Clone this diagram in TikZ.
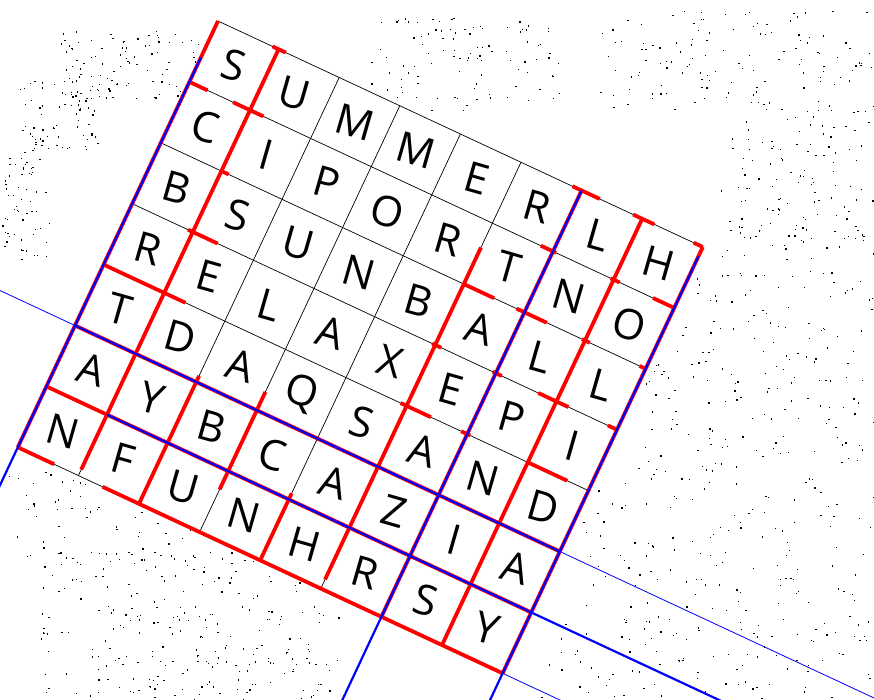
\documentclass[tikz,border=0pt]{standalone}
\usepackage{fontspec}
\setmainfont{Open Sans}
\tikzset{
  gridline/.style={black,line width=0.7pt},
  redline/.style={red,line width=3.8pt},
  blueline/.style={blue,line width=2.2pt},
  bluethin/.style={blue,line width=0.8pt},
  letter/.style={font=\fontsize{42}{42}\selectfont,rotate=-16,inner sep=0pt,text=black},
  speck/.style={fill=black}
}
\begin{document}
\begin{tikzpicture}[x=1pt,y=-1pt]
\useasboundingbox (0,0) rectangle (874,700);
\clip (0,0) rectangle (874,700);
% background speckle
\pgfmathsetseed{7}
\foreach \xa/\ya/\w/\h/\n in {60/30/150/70/100, 20/80/80/70/70, 0/150/50/110/60, 370/15/190/95/100, 600/10/274/100/130, 720/110/154/150/130, 640/260/234/190/160, 580/450/294/190/160, 40/550/300/150/260, 0/470/200/90/70, 540/620/334/80/80}{
  \foreach \k in {1,...,\n}{
    \pgfmathsetmacro\px{\xa+\w*rnd}
    \pgfmathsetmacro\py{\ya+\h*rnd}
    \fill[speck] (\px,\py) rectangle ++(1.3,1.3);
  }
}
\begin{scope}[shift={(218,21)},x={(60.6pt,-28.25pt)},y={(-28.6pt,-60.9pt)}]
  \fill[white] (0,0) -- (8,0) -- (8,7) -- (0,7) -- cycle;
  \foreach \i in {0,...,8} \draw[gridline] (\i,0) -- (\i,7);
  \foreach \j in {0,...,7} \draw[gridline] (0,\j) -- (8,\j);
  % red verticals
  \foreach \i/\a/\b in {0/0/7,1/0/6.9,2/4.9/7,3/4.7/6.3,4/5.9/7,5/1.4/6.85,6/0/7,7/0/7,8/0/7}
    \draw[redline] (\i,\a) -- (\i,\b);
  % red horizontals
  \foreach \j/\a/\b in {0/0.9/1.12, 0/5.85/6.3, 0/6.85/7.2, 0/7.85/8, 1/0/0.3, 1/0.72/1.22, 1/5.8/6.05, 1/6.95/7.1, 1/7.65/8, 2/1/1.12, 2/5/5.5, 2/5.87/6.37, 2/6.95/7.08, 2/7.9/8, 3/0.92/1.41, 3/4.95/5.1, 3/5.95/6.1, 3/6.7/7.2, 3/7.85/8, 4/0/1.35, 4/4.9/5.4, 4/5.9/6.05, 4/7/7.65, 5/0/8, 6/0/8, 7/0/0.6, 7/1.4/8}
    \draw[redline] (\a,\j) -- (\b,\j);
  % blue
  \draw[bluethin] (-4,5) -- (14,5);
  \draw[bluethin] (8,7) -- (14,7);
  \draw[blueline] (0,0.6) -- (0,9);
  \draw[blueline] (6,0) -- (6,9);
  \draw[blueline] (8,0.15) -- (8,9);
  \draw[blueline] (0,5) -- (8,5);
  \draw[blueline] (1,6) -- (12,6);
  % letters
  \foreach \row [count=\j from 0] in {{S,U,M,M,E,R,L,H},{C,I,P,O,R,T,N,O},{B,S,U,N,B,A,L,L},{R,E,L,A,X,E,P,I},{T,D,A,Q,S,A,N,D},{A,Y,B,C,A,Z,I,A},{N,F,U,N,H,R,S,Y}}
    \foreach \ch [count=\i from 0] in \row
      \node[letter] (L\i\j) at (\i+0.5,\j+0.5) {\ch};
\end{scope}
\end{tikzpicture}
\end{document}
